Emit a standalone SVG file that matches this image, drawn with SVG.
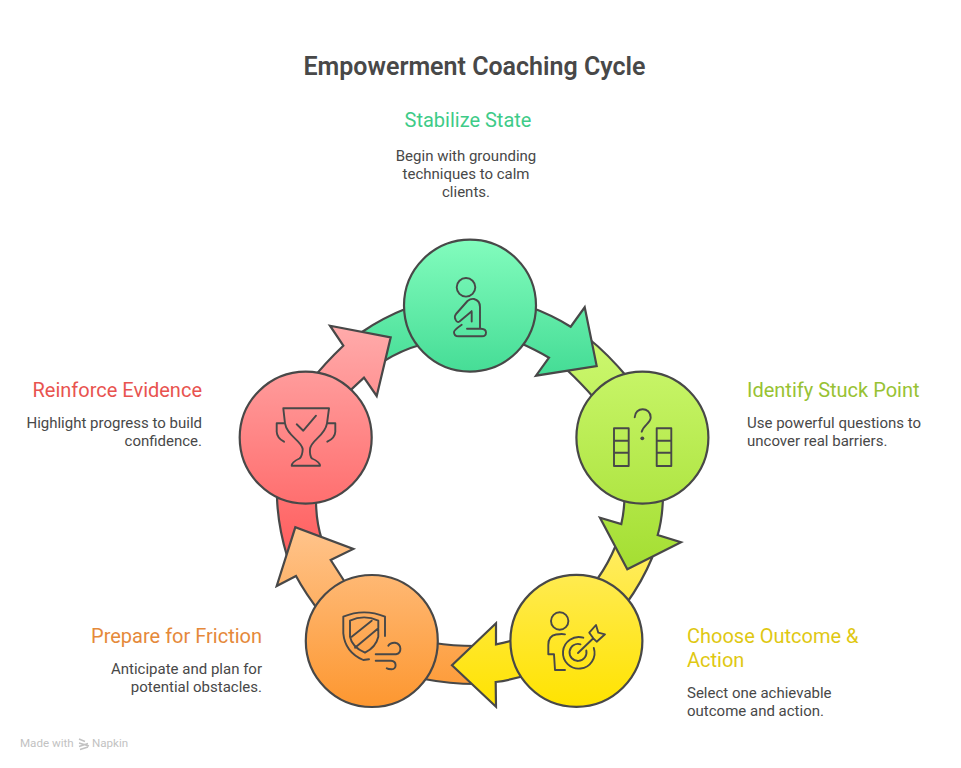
<svg xmlns="http://www.w3.org/2000/svg" width="961" height="768" viewBox="0 0 961 768">
<style>
.s{stroke:#484848;stroke-width:2.2;stroke-linejoin:miter}
.i{fill:none;stroke:#484848;stroke-width:1.9;stroke-linecap:round;stroke-linejoin:round}
text{font-family:Roboto,"Liberation Sans",sans-serif}
.title{font-size:25px;font-weight:600;fill:#484848}
.h{font-size:20px;font-weight:400}
.b{font-size:15px;fill:#484848}
.wm{font-size:11.6px;fill:#c2c2c2}
</style>
<defs>
<linearGradient id="gG" gradientUnits="userSpaceOnUse" x1="0" y1="240" x2="0" y2="376"><stop offset="0" stop-color="#82fcbd"/><stop offset="1" stop-color="#44dc95"/></linearGradient>
<linearGradient id="gL" gradientUnits="userSpaceOnUse" x1="0" y1="340" x2="0" y2="570"><stop offset="0" stop-color="#ccf86f"/><stop offset="1" stop-color="#a4de32"/></linearGradient>
<linearGradient id="gY" gradientUnits="userSpaceOnUse" x1="0" y1="548" x2="0" y2="707"><stop offset="0" stop-color="#ffec60"/><stop offset="1" stop-color="#ffe300"/></linearGradient>
<linearGradient id="gO" gradientUnits="userSpaceOnUse" x1="0" y1="527" x2="0" y2="707"><stop offset="0" stop-color="#ffc48c"/><stop offset="1" stop-color="#fd9730"/></linearGradient>
<linearGradient id="gR" gradientUnits="userSpaceOnUse" x1="0" y1="325" x2="0" y2="552"><stop offset="0" stop-color="#ffabab"/><stop offset="1" stop-color="#ff5f5f"/></linearGradient>
</defs>
<text class="title" x="474.500" y="75" text-anchor="middle">Empowerment Coaching Cycle</text>
<g id="connectors">
<path class="s" fill="url(#gG)" d="M362 332Q382 318 410 307L420 345Q402 350 384 361Z"/>
<path class="s" fill="url(#gL)" d="M588 338Q608 354 628 378L594 398Q582 384 566 369Z"/>
<path class="s" fill="url(#gY)" d="M598 578Q608 564 616 545L652 558Q642 582 626 604Z"/>
<path class="s" fill="url(#gO)" d="M434 643Q452 646 476 646L476 684Q450 684 424 679Z"/>
<path class="s" fill="url(#gR)" d="M277 498Q278 526 287 556L322 540Q316 522 316 500Z"/>
<path class="s" fill="url(#gG)" d="M530 307Q552 315 570.700 326.700L584.700 307.300L596.700 366L536 375.700L549 357.700Q536 350 518 342Z"/>
<path class="s" fill="url(#gL)" d="M624.500 495Q624.500 510 621.300 524L600 517.700L627.300 569.300L681 542.300L657.700 535Q662.700 518 663 495Z"/>
<path class="s" fill="url(#gY)" d="M520 638Q508 642 496 644.300L496 623.300L452 665.300L496 706.700L495.700 682Q512 680 530 674Z"/>
<path class="s" fill="url(#gO)" d="M350 590L330.700 560L353.300 549L295.300 527.300L276.700 586L296 576Q305 593 322 615Z"/>
<path class="s" fill="url(#gR)" d="M310 382Q325 363 343.300 345.700L330 325.700L390.700 337.300L376.700 396L364 377.700Q352 388 342 400Z"/>
</g>
<g id="node-stabilize">
<circle class="s" cx="470" cy="305.600" r="66" fill="url(#gG)"/>
<circle class="i" cx="466" cy="287.300" r="9.300"/>
<path class="i" d="M467.500 301Q470.500 298.500 474 299Q480 300.500 480 307V328.700M467 328.700H481Q486 329 486 332.500Q486 336.300 482 336.300H458.500Q454 336.300 454 332Q454 330 461.700 324.700M471.700 311.300V321.500M471.700 311.300L459.500 321.500Q457 323 455.500 319.500Q454 316.500 456 314L467.500 301"/>
</g>
<g id="node-identify">
<circle class="s" cx="642.400" cy="437.600" r="66" fill="url(#gL)"/>
<path class="i" d="M614 428.300H628.700V466H614ZM614 440.700H628.700M614 452.700H628.700M656.700 428.300H671.300V466H656.700ZM656.700 440.700H671.300M656.700 452.700H671.300M634.700 417.300C635 406.500 650.500 406.500 650.700 417.500C650.700 423 643.500 425 641.700 431.700"/>
<circle cx="642.300" cy="438.300" r="1.900" fill="#484848"/>
</g>
<g id="node-choose">
<circle class="s" cx="576.400" cy="640.800" r="66" fill="url(#gY)"/>
<circle class="i" cx="559.700" cy="621" r="8.700"/>
<path class="i" d="M565 634.300Q562 633.500 556 634.500Q548.300 636 548.300 645V654.300H554L555 670H565M583.300 637.700A15.800 15.800 0 1 0 593.800 648M580.500 644.300A8.500 8.500 0 1 0 586.300 650.500M578 653L593.300 638.300L589.300 632.700L596 625L598.300 632.700L605 634.300L596.700 641.700L593.300 638.300"/>
</g>
<g id="node-prepare">
<circle class="s" cx="371.800" cy="641" r="66" fill="url(#gO)"/>
<path class="i" d="M385 636V616.700Q364 608 343.300 616.700V633.300Q345 652 363.300 660L369 659.300M350 620.700Q364 614 378.300 620.700V636.700Q376 647 365 652.700Q352 647 350 636.700ZM351.700 636.700L371.700 620.700M355 647.700L378.300 628.300M375.700 654.300H396C402 653 402 644 395 642.700Q390 642.500 388.300 645.700M375.700 660.700H391C397 661 397 669.300 391.700 669.300Q388 669.300 386.700 668.300"/>
</g>
<g id="node-reinforce">
<circle class="s" cx="305.700" cy="437.600" r="66" fill="url(#gR)"/>
<path class="i" d="M283.300 408.300H329L327 423.300C325 436 311 440 310 449Q309.500 456 312 458.500Q320 462 320 465.700H291.700Q291.700 462 299.500 458.500Q302.500 456 302.700 449C301 440 287 436 285 423.300ZM285 423.300H276.700V431.700Q277 438 284 441.700M327 423.300H335.300V431.700Q335 438 327.300 441.700M296.700 424.300L303.300 430.700L316 415.700"/>
</g>
<g id="labels">
<text class="h" x="468" y="127" text-anchor="middle" fill="#3ecb88">Stabilize State</text>
<text class="b" text-anchor="middle"><tspan x="466" y="161">Begin with grounding</tspan><tspan x="466" y="179">techniques to calm</tspan><tspan x="466" y="197">clients.</tspan></text>
<text class="h" x="747" y="397" fill="#98c233">Identify Stuck Point</text>
<text class="b"><tspan x="747" y="428">Use powerful questions to</tspan><tspan x="747" y="446">uncover real barriers.</tspan></text>
<text class="h" fill="#dfc813"><tspan x="687" y="643">Choose Outcome &amp;</tspan><tspan x="687" y="667">Action</tspan></text>
<text class="b"><tspan x="687" y="698">Select one achievable</tspan><tspan x="687" y="716">outcome and action.</tspan></text>
<text class="h" x="262" y="643" text-anchor="end" fill="#e5893a">Prepare for Friction</text>
<text class="b" text-anchor="end"><tspan x="262" y="674">Anticipate and plan for</tspan><tspan x="262" y="692">potential obstacles.</tspan></text>
<text class="h" x="202" y="397" text-anchor="end" fill="#e8534f">Reinforce Evidence</text>
<text class="b" text-anchor="end"><tspan x="202" y="428">Highlight progress to build</tspan><tspan x="202" y="446">confidence.</tspan></text>
</g>
<g id="watermark">
<text class="wm" x="20" y="747">Made with</text>
<path d="M79 739L85 741.500M79 743L89 746M79 746.500L88 743.500M80 749.500L88 747" fill="none" stroke="#c2c2c2" stroke-width="1.500"/>
<text class="wm" x="92" y="747">Napkin</text>
</g>
</svg>
